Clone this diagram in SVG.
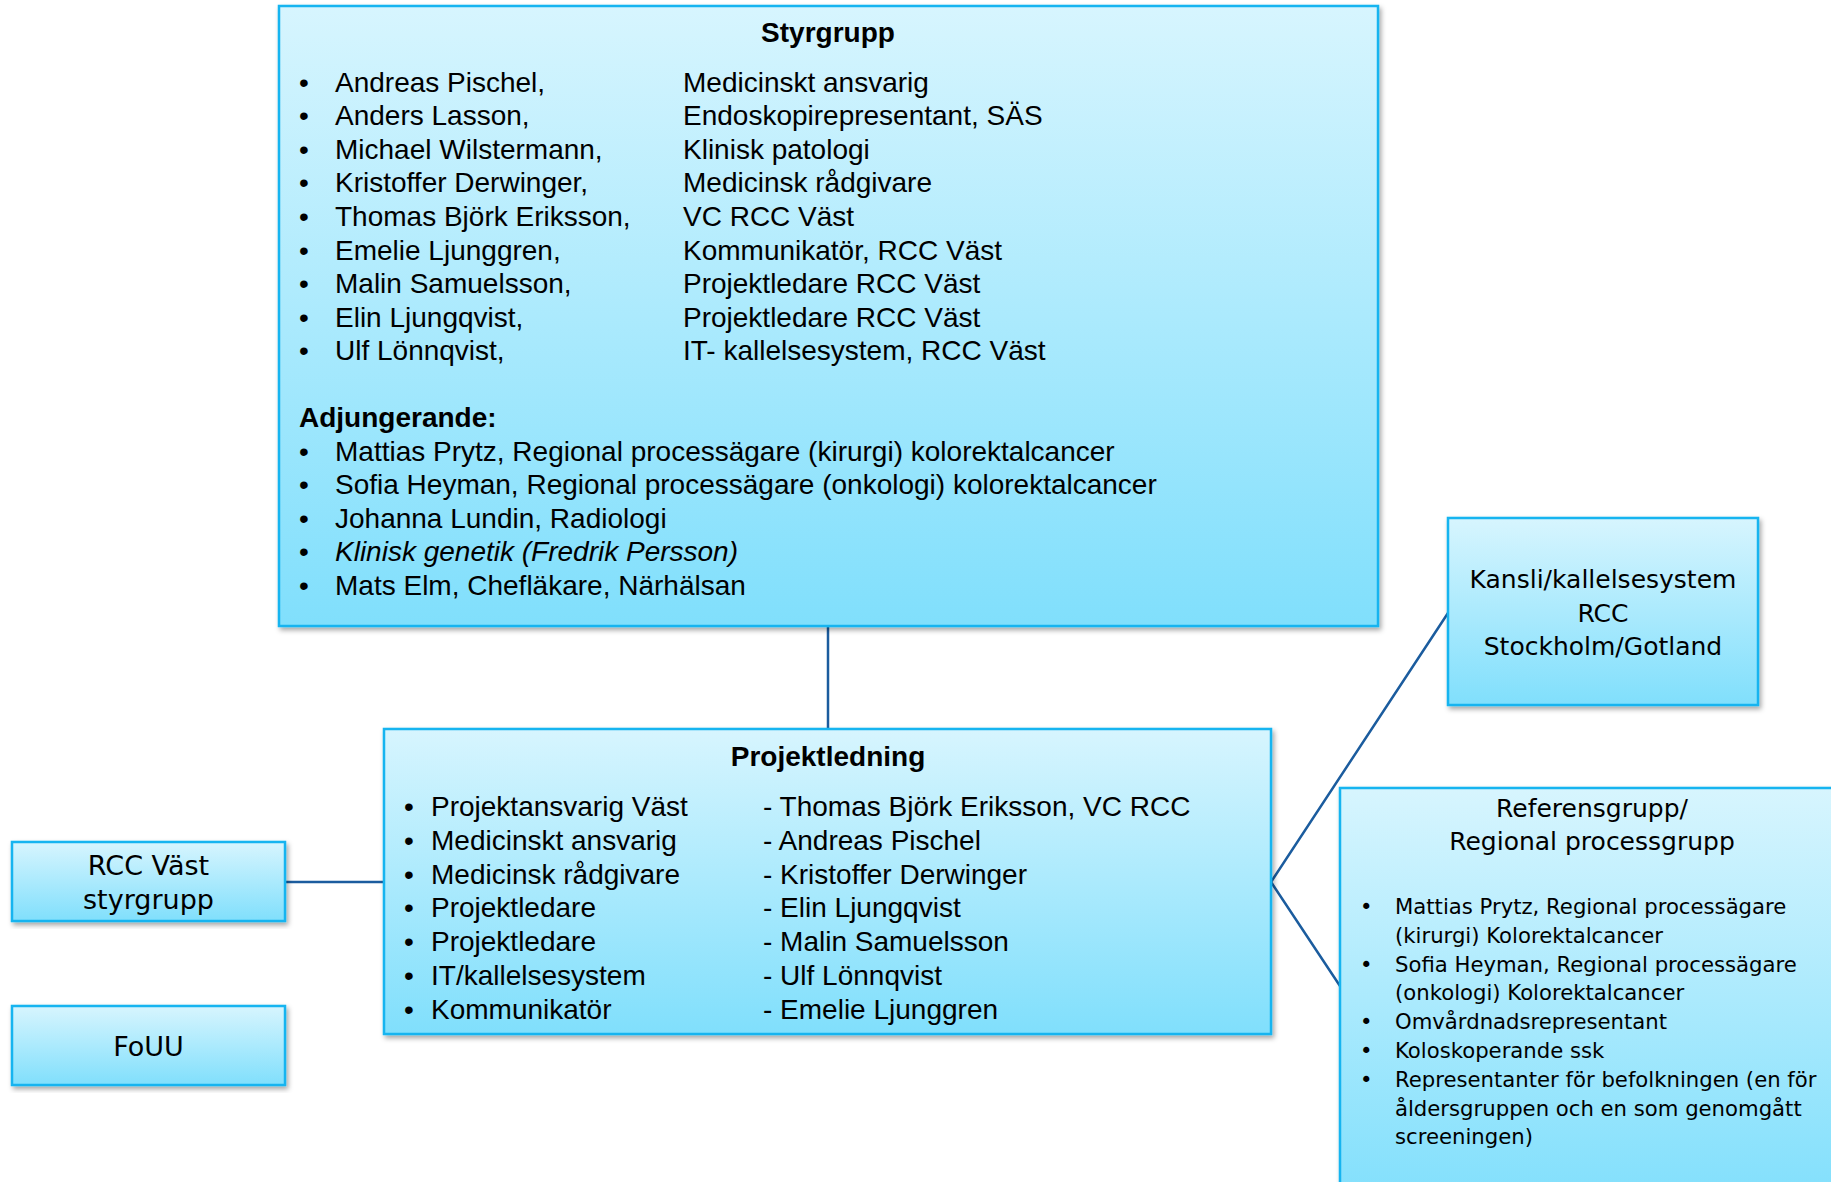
<svg xmlns="http://www.w3.org/2000/svg" width="1831" height="1182" viewBox="0 0 1831 1182">
<defs>
<linearGradient id="g" x1="0" y1="0" x2="0" y2="1">
<stop offset="0" stop-color="#d7f5fe"/>
<stop offset="1" stop-color="#80dffc"/>
</linearGradient>
<filter id="sh" x="-5%" y="-5%" width="110%" height="115%">
<feDropShadow dx="2" dy="3" stdDeviation="2.5" flood-color="#000" flood-opacity="0.35"/>
</filter>
<style>
.box{fill:url(#g);stroke:#14b4f0;stroke-width:2.5;filter:url(#sh)}
.a{font-family:"Liberation Sans",Arial,sans-serif;font-size:28px;fill:#000}
.b{font-weight:bold}
.v{font-family:"DejaVu Sans",Verdana,sans-serif;fill:#000}
.c{text-anchor:middle}
.con{stroke:#1b5c9e;stroke-width:2.5;fill:none}
</style>
</defs>

<g id="connectors">
<line class="con" x1="828" y1="626" x2="828" y2="729"/>
<line class="con" x1="285" y1="882" x2="384" y2="882"/>
<polyline class="con" points="1448,613 1271,882 1340,986"/>
</g>

<g id="styrgrupp">
<rect class="box" x="279" y="6" width="1099" height="620"/>
<text class="a b c" font-size="29" x="828" y="42">Styrgrupp</text>
<g class="a">
<text x="299" y="91.5">•</text><text x="335" y="91.5">Andreas Pischel,</text><text x="683" y="91.5">Medicinskt ansvarig</text>
<text x="299" y="125.1">•</text><text x="335" y="125.1">Anders Lasson,</text><text x="683" y="125.1">Endoskopirepresentant, SÄS</text>
<text x="299" y="158.7">•</text><text x="335" y="158.7">Michael Wilstermann,</text><text x="683" y="158.7">Klinisk patologi</text>
<text x="299" y="192.3">•</text><text x="335" y="192.3">Kristoffer Derwinger,</text><text x="683" y="192.3">Medicinsk rådgivare</text>
<text x="299" y="225.9">•</text><text x="335" y="225.9">Thomas Björk Eriksson,</text><text x="683" y="225.9">VC RCC Väst</text>
<text x="299" y="259.5">•</text><text x="335" y="259.5">Emelie Ljunggren,</text><text x="683" y="259.5">Kommunikatör, RCC Väst</text>
<text x="299" y="293.1">•</text><text x="335" y="293.1">Malin Samuelsson,</text><text x="683" y="293.1">Projektledare RCC Väst</text>
<text x="299" y="326.7">•</text><text x="335" y="326.7">Elin Ljungqvist,</text><text x="683" y="326.7">Projektledare RCC Väst</text>
<text x="299" y="360.3">•</text><text x="335" y="360.3">Ulf Lönnqvist,</text><text x="683" y="360.3">IT- kallelsesystem, RCC Väst</text>
<text class="b" x="299" y="427">Adjungerande:</text>
<text x="299" y="460.6">•</text><text x="335" y="460.6">Mattias Prytz, Regional processägare (kirurgi) kolorektalcancer</text>
<text x="299" y="494.2">•</text><text x="335" y="494.2">Sofia Heyman, Regional processägare (onkologi) kolorektalcancer</text>
<text x="299" y="527.8">•</text><text x="335" y="527.8">Johanna Lundin, Radiologi</text>
<text x="299" y="561.4">•</text><text x="335" y="561.4" font-style="italic">Klinisk genetik (Fredrik Persson)</text>
<text x="299" y="595">•</text><text x="335" y="595">Mats Elm, Chefläkare, Närhälsan</text>
</g>
</g>

<g id="projektledning">
<rect class="box" x="384" y="729" width="887" height="305"/>
<text class="a b c" font-size="29" x="828" y="766">Projektledning</text>
<g class="a">
<text x="404" y="816">•</text><text x="431" y="816">Projektansvarig Väst</text><text x="763" y="816">- Thomas Björk Eriksson, VC RCC</text>
<text x="404" y="849.8">•</text><text x="431" y="849.8">Medicinskt ansvarig</text><text x="763" y="849.8">- Andreas Pischel</text>
<text x="404" y="883.6">•</text><text x="431" y="883.6">Medicinsk rådgivare</text><text x="763" y="883.6">- Kristoffer Derwinger</text>
<text x="404" y="917.4">•</text><text x="431" y="917.4">Projektledare</text><text x="763" y="917.4">- Elin Ljungqvist</text>
<text x="404" y="951.2">•</text><text x="431" y="951.2">Projektledare</text><text x="763" y="951.2">- Malin Samuelsson</text>
<text x="404" y="985">•</text><text x="431" y="985">IT/kallelsesystem</text><text x="763" y="985">- Ulf Lönnqvist</text>
<text x="404" y="1018.8">•</text><text x="431" y="1018.8">Kommunikatör</text><text x="763" y="1018.8">- Emelie Ljunggren</text>
</g>
</g>

<g id="rcc-vast-styrgrupp">
<rect class="box" x="12" y="842" width="273" height="79"/>
<text class="v c" font-size="27" x="148.5" y="875">RCC Väst</text>
<text class="v c" font-size="27" x="148.5" y="909">styrgrupp</text>
</g>

<g id="fouu">
<rect class="box" x="12" y="1006" width="273" height="79"/>
<text class="v c" font-size="27" x="148.5" y="1056">FoUU</text>
</g>

<g id="kansli">
<rect class="box" x="1448" y="518" width="310" height="187"/>
<text class="v c" font-size="25" x="1603" y="588">Kansli/kallelsesystem</text>
<text class="v c" font-size="25" x="1603" y="622">RCC</text>
<text class="v c" font-size="25" x="1603" y="655">Stockholm/Gotland</text>
</g>

<g id="referensgrupp">
<rect class="box" x="1340" y="788" width="530" height="420"/>
<text class="v c" font-size="25" x="1592" y="817">Referensgrupp/</text>
<text class="v c" font-size="25" x="1592" y="850">Regional processgrupp</text>
<g class="v" font-size="21.2">
<text x="1360" y="914">•</text><text x="1395" y="914">Mattias Prytz, Regional processägare</text>
<text x="1395" y="942.8">(kirurgi) Kolorektalcancer</text>
<text x="1360" y="971.6">•</text><text x="1395" y="971.6">Sofia Heyman, Regional processägare</text>
<text x="1395" y="1000.4">(onkologi) Kolorektalcancer</text>
<text x="1360" y="1029.2">•</text><text x="1395" y="1029.2">Omvårdnadsrepresentant</text>
<text x="1360" y="1058">•</text><text x="1395" y="1058">Koloskoperande ssk</text>
<text x="1360" y="1086.8">•</text><text x="1395" y="1086.8">Representanter för befolkningen (en för</text>
<text x="1395" y="1115.6">åldersgruppen och en som genomgått</text>
<text x="1395" y="1144.4">screeningen)</text>
</g>
</g>
</svg>
